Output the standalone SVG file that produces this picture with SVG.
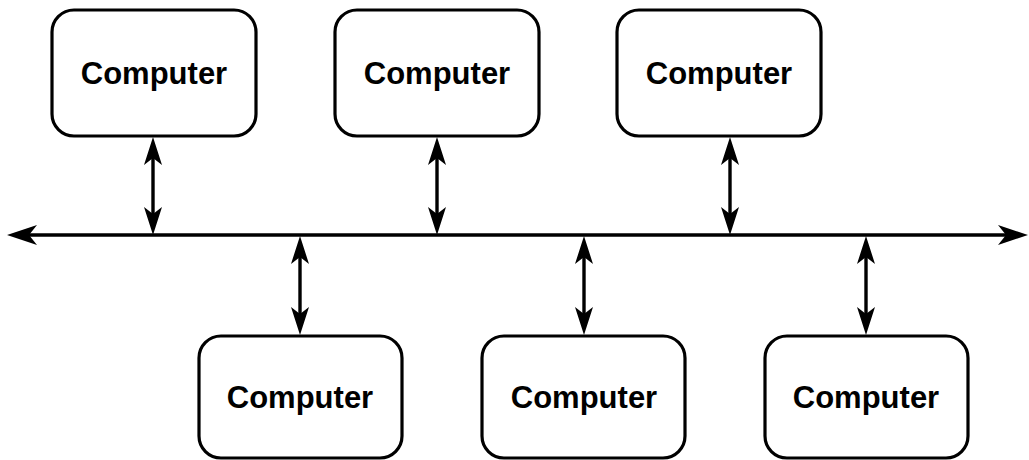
<svg xmlns="http://www.w3.org/2000/svg" xmlns:xlink="http://www.w3.org/1999/xlink" width="1029" height="460" viewBox="0 0 1029 460">
<style>
.box{fill:#fff;stroke:#000;stroke-width:3.2}
.lbl{font-family:"Liberation Sans",Arial,sans-serif;font-weight:bold;font-size:31px;fill:#000;text-anchor:middle}
.ln{stroke:#000;stroke-width:3.4;fill:none}
.ah{fill:#000}
</style>
<defs>
<path id="up" class="ah" d="M0,0 L9,28 L0,21 L-9,28 Z"/>
<path id="upb" class="ah" d="M0,0 L10,30 L0,22 L-10,30 Z"/>
</defs>
<rect width="1029" height="460" fill="#fff"/>
<g id="pc1"><rect class="box" x="52" y="10" width="204" height="126" rx="22"/><text class="lbl" x="154" y="84">Computer</text></g>
<g id="pc2"><rect class="box" x="335" y="10" width="204" height="126" rx="22"/><text class="lbl" x="437" y="84">Computer</text></g>
<g id="pc3"><rect class="box" x="617" y="10" width="204" height="126" rx="22"/><text class="lbl" x="719" y="84">Computer</text></g>
<g id="pc4"><rect class="box" x="199" y="336" width="203" height="122" rx="22"/><text class="lbl" x="300" y="408">Computer</text></g>
<g id="pc5"><rect class="box" x="482" y="336" width="203" height="122" rx="22"/><text class="lbl" x="584" y="408">Computer</text></g>
<g id="pc6"><rect class="box" x="765" y="336" width="203" height="122" rx="22"/><text class="lbl" x="866" y="408">Computer</text></g>
<g id="connectors">
<line class="ln" x1="20" y1="235" x2="1016" y2="235"/>
<use xlink:href="#upb" transform="translate(7,235) rotate(-90)"/>
<use xlink:href="#upb" transform="translate(1028,235) rotate(90)"/>
<line class="ln" x1="153" y1="150" x2="153" y2="222"/>
<use xlink:href="#up" transform="translate(153,137)"/>
<use xlink:href="#up" transform="translate(153,235) rotate(180)"/>
<line class="ln" x1="437" y1="150" x2="437" y2="222"/>
<use xlink:href="#up" transform="translate(437,137)"/>
<use xlink:href="#up" transform="translate(437,235) rotate(180)"/>
<line class="ln" x1="730" y1="150" x2="730" y2="222"/>
<use xlink:href="#up" transform="translate(730,137)"/>
<use xlink:href="#up" transform="translate(730,235) rotate(180)"/>
<line class="ln" x1="300" y1="248" x2="300" y2="322"/>
<use xlink:href="#up" transform="translate(300,236)"/>
<use xlink:href="#up" transform="translate(300,335) rotate(180)"/>
<line class="ln" x1="584" y1="248" x2="584" y2="322"/>
<use xlink:href="#up" transform="translate(584,236)"/>
<use xlink:href="#up" transform="translate(584,335) rotate(180)"/>
<line class="ln" x1="866" y1="248" x2="866" y2="322"/>
<use xlink:href="#up" transform="translate(866,236)"/>
<use xlink:href="#up" transform="translate(866,335) rotate(180)"/>
</g>
</svg>
